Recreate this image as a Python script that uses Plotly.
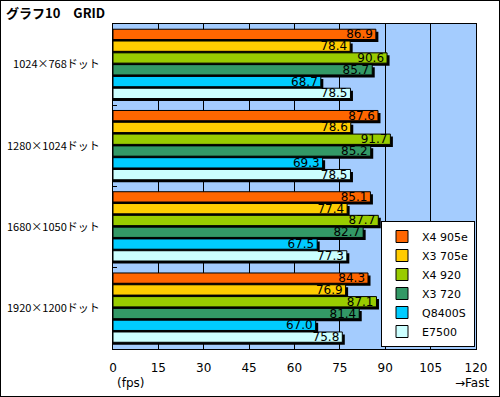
import plotly.graph_objects as go

categories = ["1024×768ドット", "1280×1024ドット", "1680×1050ドット", "1920×1200ドット"]
series_names = ["X4 905e", "X3 705e", "X4 920", "X3 720", "Q8400S", "E7500"]
x4_905e = [86.9, 87.6, 85.1, 84.3]
x3_705e = [78.4, 78.6, 77.4, 76.9]
x4_920 = [90.6, 91.7, 87.7, 87.1]
x3_720 = [85.7, 85.2, 82.7, 81.4]
q8400s = [68.7, 69.3, 67.5, 67.0]
e7500 = [78.5, 78.5, 77.3, 75.8]
x_ticks = [0, 15, 30, 45, 60, 75, 90, 105, 120]

series_values = [x4_905e, x3_705e, x4_920, x3_720, q8400s, e7500]
colors = ["#FF6600", "#FFCC00", "#99CC00", "#339966", "#00CCFF", "#CCFFFF"]

W, H = 500, 397
ml, mr, mt, mb = 113, 24, 24, 48
pw, ph = W - ml - mr, H - mt - mb
cat_px = ph / len(categories)
slot = 11.8 / cat_px
bar_w = 10.3 / cat_px
group = slot * len(series_names)
sh_y = 2.5 / cat_px          # shadow vertical shift (axis units)
sh_x = 2.5 * 120 / pw        # shadow horizontal shift (axis units)

fig = go.Figure()
# shadows
for i, vals in enumerate(series_values):
    fig.add_trace(go.Bar(
        y=categories, x=[v + sh_x for v in vals], orientation="h",
        offset=-group / 2 + i * slot + sh_y, width=bar_w,
        marker=dict(color="black", line=dict(width=0)),
        showlegend=False, hoverinfo="skip"))
# main bars
for i, (name, vals) in enumerate(zip(series_names, series_values)):
    fig.add_trace(go.Bar(
        y=categories, x=vals, orientation="h", name=name,
        offset=-group / 2 + i * slot, width=bar_w,
        marker=dict(color=colors[i], line=dict(color="black", width=1)),
        text=[f"{v:.1f}" for v in vals], textposition="inside",
        insidetextanchor="end", constraintext="none",
        textfont=dict(family="DejaVu Sans", size=12, color="black"),
        cliponaxis=False))

fig.update_layout(
    width=W, height=H, barmode="overlay",
    margin=dict(l=ml, r=mr, t=mt, b=mb, autoexpand=False),
    paper_bgcolor="white", plot_bgcolor="#A4CCFE",
    font=dict(family="Noto Sans CJK JP", size=12, color="black"),
    title=dict(text="<b>グラフ10　GRID</b>", xref="container", yref="container",
               x=6 / W, y=1 - 13 / H, xanchor="left", yanchor="middle",
               font=dict(family="Noto Sans CJK JP", size=13, color="black")),
    legend=dict(x=(475 - ml) / pw, y=(H - mb - 347) / ph, xanchor="right", yanchor="bottom",
                bgcolor="white", bordercolor="black", borderwidth=1,
                font=dict(family="DejaVu Sans", size=11), tracegroupgap=0,
                itemwidth=30),
    showlegend=True,
)
fig.update_xaxes(range=[0, 120], tickvals=x_ticks, ticktext=[str(t) for t in x_ticks],
                 showgrid=True, gridcolor="black", gridwidth=1, zeroline=False,
                 showline=True, linecolor="black", linewidth=1, mirror=True,
                 ticks="", ticklabelstandoff=8, automargin=False,
                 tickfont=dict(family="DejaVu Sans", size=12))
fig.update_yaxes(autorange="reversed", showgrid=False, showline=True, linecolor="black",
                 linewidth=1, mirror=True, ticks="inside", ticklen=4, tickcolor="black",
                 tickson="boundaries", ticklabelstandoff=10, automargin=False,
                 tickfont=dict(family="Noto Sans CJK JP", size=11))

fig.add_annotation(text="(fps)", xref="paper", yref="paper", x=2 / pw, y=-(383 - (H - mb)) / ph,
                   xanchor="left", yanchor="middle", showarrow=False,
                   font=dict(family="DejaVu Sans", size=12))
fig.add_annotation(text="→Fast", xref="paper", yref="paper", x=(491 - ml) / pw,
                   y=-(383 - (H - mb)) / ph, xanchor="right", yanchor="middle", showarrow=False,
                   font=dict(family="DejaVu Sans", size=12))
# outer frame
fig.add_shape(type="rect", xref="paper", yref="paper",
              x0=-ml / pw, x1=1 + mr / pw, y0=-mb / ph, y1=1 + mt / ph,
              line=dict(color="black", width=2))

fig.write_html("out.html", config={"displayModeBar": False},
               post_script="document.body.style.margin='0';document.body.style.padding='0';")
